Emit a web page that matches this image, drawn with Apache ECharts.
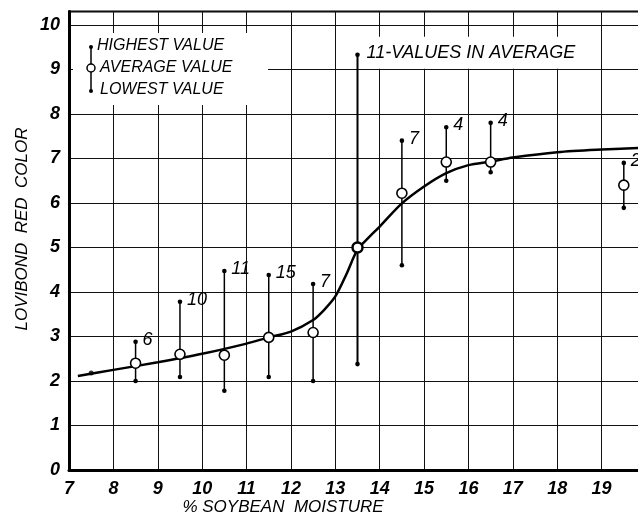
<!DOCTYPE html>
<html>
<head>
<meta charset="utf-8">
<script src="https://cdn.jsdelivr.net/npm/echarts@6/dist/echarts.min.js"></script>
<style>html,body{margin:0;padding:0;background:#fff}#c{width:638px;height:516px}</style>
</head>
<body>
<div id="c"></div>
<script>
// Moisture classes (x) and Lovibond red colour readings
const moisture = [8.5, 9.5, 10.5, 11.5, 12.5, 13.5, 14.5, 15.5, 16.5, 19.5];
const avgValue = [2.4, 2.6, 2.58, 2.98, 3.09, 5.0, 6.22, 6.92, 6.92, 6.4];
const highValue = [2.88, 3.78, 4.47, 4.38, 4.18, 9.33, 7.4, 7.7, 7.8, 6.9];
const lowValue = [2.0, 2.09, 1.78, 2.09, 2.0, 2.38, 4.6, 6.5, 6.69, 5.89];
const countLabels = ['6', '10', '11', '15', '7', '11-VALUES IN AVERAGE', '7', '4', '4', '2'];
// single reading
const singleX = [7.5];
const singleY = [2.18];
// fitted curve
const curveX = [7.2, 8, 9, 10, 11, 11.5, 12, 12.5, 12.75, 13, 13.25, 13.5, 13.75, 14, 14.5, 15, 15.5, 16, 16.5, 17, 18, 19, 20];
const curveY = [2.11, 2.25, 2.42, 2.61, 2.84, 2.98, 3.11, 3.37, 3.6, 3.9, 4.4, 4.95, 5.22, 5.47, 5.99, 6.37, 6.67, 6.85, 6.93, 7.02, 7.14, 7.2, 7.24];
// axis tick labels
const xTicks = ['7', '8', '9', '10', '11', '12', '13', '14', '15', '16', '17', '18', '19'];
const yTicks = ['0', '1', '2', '3', '4', '5', '6', '7', '8', '9', '10'];

const FONT = '"Liberation Sans", Arial, sans-serif';
const chart = echarts.init(document.getElementById('c'));

const barData = moisture.map((x, i) => [x, avgValue[i], lowValue[i], highValue[i], i]);

chart.setOption({
  backgroundColor: '#fff',
  animation: false,
  grid: {left: 69, top: 11.6, width: 577, height: 458.4, outerBoundsMode: 'none', containLabel: false,
    show: true, borderColor: '#000', borderWidth: 2, backgroundColor: 'transparent'},
  xAxis: {
    type: 'value', min: 7, max: 20, interval: 1,
    axisLine: {show: true, onZero: false, lineStyle: {color: '#000', width: 3}},
    axisTick: {show: false},
    splitLine: {show: true, lineStyle: {color: '#111', width: 1}},
    axisLabel: {margin: 10, color: '#000', fontFamily: FONT, fontStyle: 'italic', fontWeight: 'bold', fontSize: 18,
      formatter: v => { const s = String(v); return xTicks.indexOf(s) >= 0 ? s : ''; }}
  },
  yAxis: {
    type: 'value', min: 0, max: 10.3, interval: 1,
    axisLine: {show: true, onZero: false, lineStyle: {color: '#000', width: 3}},
    axisTick: {show: false},
    splitLine: {show: true, lineStyle: {color: '#111', width: 1}},
    axisLabel: {margin: 9, color: '#000', fontFamily: FONT, fontStyle: 'italic', fontWeight: 'bold', fontSize: 18,
      formatter: v => { const s = String(v); return yTicks.indexOf(s) >= 0 ? s : ''; }}
  },
  graphic: [
    {type: 'rect', z: 50, shape: {x: 73, y: 33, width: 195, height: 72}, style: {fill: '#fff'}},
    {type: 'line', z: 51, shape: {x1: 91, y1: 47, x2: 91, y2: 91}, style: {stroke: '#000', lineWidth: 1.5}},
    {type: 'circle', z: 51, shape: {cx: 91, cy: 47, r: 2}, style: {fill: '#000'}},
    {type: 'circle', z: 51, shape: {cx: 91, cy: 91, r: 2}, style: {fill: '#000'}},
    {type: 'circle', z: 52, shape: {cx: 91, cy: 68, r: 4}, style: {fill: '#fff', stroke: '#000', lineWidth: 1.5}},
    {type: 'text', z: 52, x: 97, y: 46, style: {text: 'HIGHEST VALUE', font: 'italic 16px ' + FONT, fill: '#000', verticalAlign: 'middle'}},
    {type: 'text', z: 52, x: 100, y: 68, style: {text: 'AVERAGE VALUE', font: 'italic 16px ' + FONT, fill: '#000', verticalAlign: 'middle'}},
    {type: 'text', z: 52, x: 100, y: 90, style: {text: 'LOWEST VALUE', font: 'italic 16px ' + FONT, fill: '#000', verticalAlign: 'middle'}},
    {type: 'text', z: 52, x: 22, y: 229, rotation: Math.PI / 2, style: {text: 'LOVIBOND  RED  COLOR', font: 'italic 17px ' + FONT, fill: '#000', align: 'center', verticalAlign: 'middle'}},
    {type: 'text', z: 52, x: 283, y: 507, style: {text: '% SOYBEAN  MOISTURE', font: 'italic 17px ' + FONT, fill: '#000', align: 'center', verticalAlign: 'middle'}}
  ],
  series: [
    {
      type: 'line', data: curveX.map((x, i) => [x, curveY[i]]), smooth: 0.3, showSymbol: false, z: 3,
      lineStyle: {color: '#000', width: 2.5}
    },
    {
      type: 'scatter', data: singleX.map((x, i) => [x, singleY[i]]), symbol: 'circle', symbolSize: 5, z: 4,
      itemStyle: {color: '#000'}
    },
    {
      type: 'custom', z: 5, data: barData,
      renderItem: function (params, api) {
        const x = api.value(0);
        const pA = api.coord([x, api.value(1)]);
        const pL = api.coord([x, api.value(2)]);
        const pH = api.coord([x, api.value(3)]);
        const idx = api.value(4);
        const label = countLabels[idx];
        const isLong = label.length > 3;
        return {
          type: 'group',
          children: [
            {type: 'line', shape: {x1: pL[0], y1: pL[1], x2: pH[0], y2: pH[1]}, style: {stroke: '#000', lineWidth: isLong ? 2 : 1.5}},
            {type: 'circle', shape: {cx: pH[0], cy: pH[1], r: 2.3}, style: {fill: '#000'}},
            {type: 'circle', shape: {cx: pL[0], cy: pL[1], r: 2.3}, style: {fill: '#000'}},
            {type: 'circle', shape: {cx: pA[0], cy: pA[1], r: 5}, style: {fill: '#fff', stroke: '#000', lineWidth: isLong ? 2.5 : 1.6}},
            {type: 'text', x: pH[0] + 7, y: pH[1] - 2,
              style: {text: label, font: 'italic 18px ' + FONT, fill: '#000', verticalAlign: 'middle',
                backgroundColor: isLong ? '#fff' : 'transparent', padding: isLong ? [7, 4, 7, 2] : 0}}
          ]
        };
      }
    }
  ]
});
</script>
</body>
</html>
